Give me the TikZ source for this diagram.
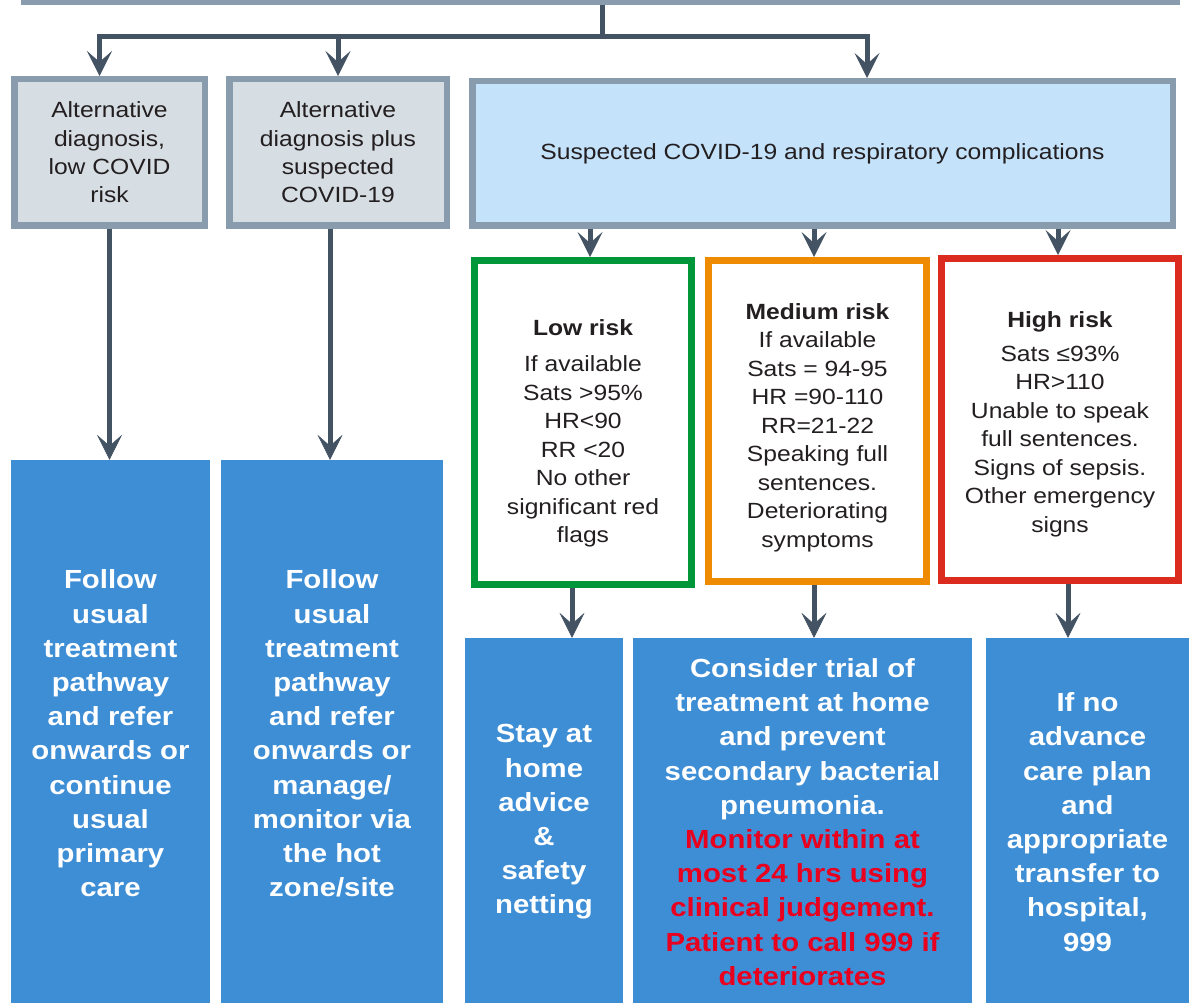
\documentclass[tikz,border=0pt]{standalone}
\usepackage{fontspec}
\setmainfont{Liberation Sans}[FakeStretch=1.12]
\usetikzlibrary{arrows.meta}
\definecolor{edge}{RGB}{136,156,174}
\definecolor{greyfill}{RGB}{214,221,227}
\definecolor{paleblue}{RGB}{196,226,250}
\definecolor{arrowc}{RGB}{67,83,99}
\definecolor{actblue}{RGB}{62,142,214}
\definecolor{lowc}{RGB}{0,150,58}
\definecolor{medc}{RGB}{238,139,0}
\definecolor{highc}{RGB}{219,42,30}
\definecolor{warn}{RGB}{232,0,30}
\definecolor{ink}{RGB}{35,31,32}
\begin{document}
\begin{tikzpicture}[x=1pt,y=-1pt]
\tikzstyle{greybox}=[draw=edge,line width=6.5pt,fill=greyfill,align=center,text=ink,inner sep=0pt,font=\fontsize{22}{28.3}\selectfont]
\tikzstyle{riskbox}=[line width=7pt,fill=white,align=center,text=ink,inner sep=0pt,font=\fontsize{22}{28.5}\selectfont]
\tikzstyle{actbox}=[fill=actblue,align=center,text=white,inner sep=0pt,font=\bfseries\fontsize{26.2}{34.2}\selectfont]
\tikzstyle{arrow}=[draw=arrowc,line width=5pt,-{Stealth[length=25pt,width=25pt,inset=11pt,line width=0.5pt]}]
\useasboundingbox (0,0) rectangle (1189,1003);
% top of the chart (only its lower edge shows)
\node [greybox,fill=white,minimum width=1153,minimum height=60] at (600.5,-28) (top) {};
% second row
\node [greybox,minimum width=190.5,minimum height=146.5] at (109.5,152.5) (alt1) {Alternative\\diagnosis,\\low COVID\\risk};
\node [greybox,minimum width=217.5,minimum height=146.5] at (338,152.5) (alt2) {Alternative\\diagnosis plus\\suspected\\COVID-19};
\node [greybox,fill=paleblue,minimum width=700.5,minimum height=144.5] at (822.5,153.5) (sus) {Suspected COVID-19 and respiratory complications};
% risk levels
\node [riskbox,draw=lowc,minimum width=217,minimum height=324] at (583,422.5) (low) {\rule{0pt}{38pt}\textbf{Low risk}\\[7.5pt]If available\\Sats >95\%\\HR<90\\RR <20\\No other\\significant red\\flags};
\node [riskbox,draw=medc,minimum width=218,minimum height=321] at (817.5,421) (med) {\rule{0pt}{29pt}\textbf{Medium risk}\\If available\\Sats = 94-95\\HR =90-110\\RR=21-22\\Speaking full\\sentences.\\Deteriorating\\symptoms};
\node [riskbox,draw=highc,minimum width=237,minimum height=322] at (1060,419.5) (high) {\rule{0pt}{25pt}\textbf{High risk}\\[5.5pt]Sats ≤93\%\\HR>110\\Unable to speak\\full sentences.\\Signs of sepsis.\\Other emergency\\signs};
% actions
\node [actbox,minimum width=199,minimum height=547] at (110.5,733.5) (blue1) {Follow\\usual\\treatment\\pathway\\and refer\\onwards or\\continue\\usual\\primary\\care};
\node [actbox,minimum width=222,minimum height=547] at (332,733.5) (blue2) {Follow\\usual\\treatment\\pathway\\and refer\\onwards or\\manage/\\monitor via\\the hot\\zone/site};
\node [actbox,minimum width=158,minimum height=368] at (544,822) (stay) {Stay at\\home\\advice\\\&\\safety\\netting};
\node [actbox,minimum width=339,minimum height=368] at (802.5,822) (trial) {Consider trial of\\treatment at home\\and prevent\\secondary bacterial\\pneumonia.\\\textcolor{warn}{Monitor within at}\\\textcolor{warn}{most 24 hrs using}\\\textcolor{warn}{clinical judgement.}\\\textcolor{warn}{Patient to call 999 if}\\\textcolor{warn}{deteriorates}};
\node [actbox,minimum width=203,minimum height=368] at (1087.5,822) (ifno) {If no\\advance\\care plan\\and\\appropriate\\transfer to\\hospital,\\999};
% connectors
\coordinate (split) at (602,37);
\draw [draw=arrowc,line width=5pt] (top.south -| split) -- (split);
\draw [arrow] (split) -| ([xshift=-10]alt1.north);
\draw [arrow] (split) -| (alt2.north);
\draw [arrow] (split) -| ([xshift=44.5]sus.north);
\coordinate (a1) at (alt1.south);
\coordinate (a2) at ([xshift=-8]alt2.south);
\draw [arrow] (a1) -- (a1 |- blue1.north);
\draw [arrow] (a2) -- (a2 |- blue2.north);
\foreach \r/\dx in {low/7,med/-3.5,high/-2} {
  \coordinate (t) at ([xshift=\dx]\r.north);
  \draw [arrow] (sus.south -| t) -- (t);
}
\foreach \r/\a/\dx in {low/stay/-11,med/trial/-3.5,high/ifno/8} {
  \coordinate (s) at ([xshift=\dx]\r.south);
  \draw [arrow] (s) -- (s |- \a.north);
}
\end{tikzpicture}
\end{document}
